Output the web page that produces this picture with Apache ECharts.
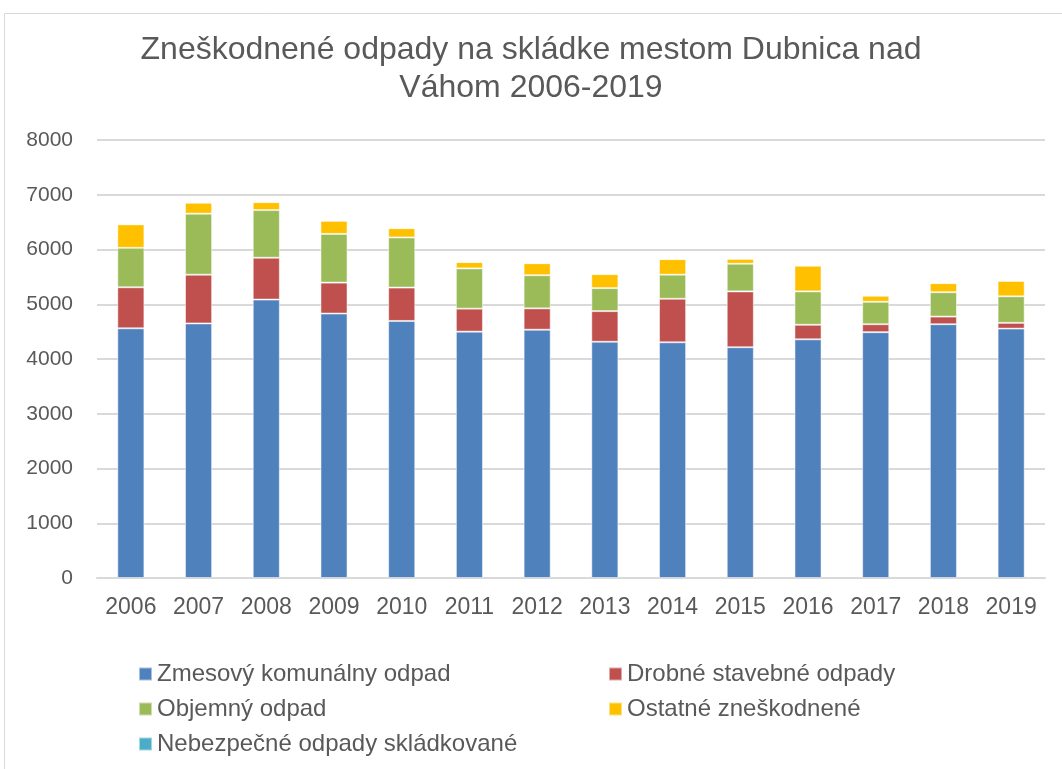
<!DOCTYPE html>
<html>
<head>
<meta charset="utf-8">
<script src="https://cdn.jsdelivr.net/npm/echarts@6/dist/echarts.min.js"></script>
<style>
  html, body { margin: 0; padding: 0; background: #fff; }
  #chart { width: 1062px; height: 769px; }
</style>
</head>
<body>
<div id="chart"></div>
<script>
const years = ['2006', '2007', '2008', '2009', '2010', '2011', '2012', '2013', '2014', '2015', '2016', '2017', '2018', '2019']

const zmesovy = [4560, 4650, 5085, 4830, 4695, 4500, 4535, 4315, 4305, 4215, 4360, 4490, 4635, 4555]
const drobne = [750, 890, 765, 565, 610, 420, 390, 560, 795, 1020, 265, 145, 140, 105]
const objemny = [720, 1115, 870, 890, 915, 735, 605, 420, 440, 505, 610, 410, 445, 485]
const ostatne = [430, 200, 145, 240, 170, 115, 220, 255, 285, 90, 470, 110, 165, 280]
const nebezpecne = [0, 0, 0, 0, 0, 0, 0, 0, 0, 0, 0, 12, 12, 18]

const yTicks = [0, 1000, 2000, 3000, 4000, 5000, 6000, 7000, 8000]

const textColor = '#595959'
const font = 'Liberation Sans, Arial, sans-serif'

function bar(name, data, color) {
  return {
    name: name,
    type: 'bar',
    stack: 'total',
    data: data,
    barWidth: '40%',
    itemStyle: {
      color: color,
      borderColor: 'rgba(255,255,255,0.5)',
      borderWidth: 1,
    },
  }
}

const legendCommon = {
  orient: 'vertical',
  top: 657,
  itemWidth: 13,
  itemHeight: 13,
  itemGap: 11,
  icon: 'rect',
  textStyle: { fontFamily: font, fontSize: 24, color: textColor },
}

const chart = echarts.init(document.getElementById('chart'), null, { renderer: 'canvas' })

chart.setOption({
  animation: false,
  textStyle: { fontFamily: font, color: textColor },
  title: {
    text: 'Zneškodnené odpady na skládke mestom Dubnica nad\nVáhom 2006-2019',
    left: 'center',
    top: 26,
    padding: [5, 0, 5, 22],
    textStyle: {
      fontFamily: font,
      fontSize: 32,
      fontWeight: 'normal',
      color: textColor,
      lineHeight: 38,
    },
  },
  graphic: [
    {
      type: 'rect',
      shape: { x: 4.5, y: 13.5, width: 1100, height: 800 },
      style: { fill: 'none', stroke: '#d9d9d9', lineWidth: 1 },
      silent: true,
    },
  ],
  legend: [
    Object.assign({}, legendCommon, {
      left: 133,
      data: ['Zmesový komunálny odpad', 'Objemný odpad', 'Nebezpečné odpady skládkované'],
    }),
    Object.assign({}, legendCommon, {
      left: 603,
      data: ['Drobné stavebné odpady', 'Ostatné zneškodnené'],
    }),
  ],
  grid: {
    left: 97,
    right: 17,
    top: 140,
    bottom: 191,
    containLabel: false,
  },
  xAxis: {
    type: 'category',
    data: years,
    axisLine: { lineStyle: { color: '#d9d9d9', width: 2 } },
    axisTick: { show: false },
    axisLabel: { fontFamily: font, fontSize: 23, color: textColor, margin: 18 },
  },
  yAxis: {
    type: 'value',
    min: yTicks[0],
    max: yTicks[yTicks.length - 1],
    interval: 1000,
    axisLine: { show: false },
    axisTick: { show: false },
    axisLabel: {
      fontFamily: font,
      fontSize: 21,
      color: textColor,
      margin: 24,
      formatter: (v) => String(v),
    },
    splitLine: { lineStyle: { color: '#d9d9d9', width: 2 } },
  },
  series: [
    bar('Zmesový komunálny odpad', zmesovy, '#4f81bd'),
    bar('Drobné stavebné odpady', drobne, '#c0504d'),
    bar('Objemný odpad', objemny, '#9bbb59'),
    bar('Ostatné zneškodnené', ostatne, '#ffc000'),
    bar('Nebezpečné odpady skládkované', nebezpecne, '#4bacc6'),
  ],
})
</script>
</body>
</html>
